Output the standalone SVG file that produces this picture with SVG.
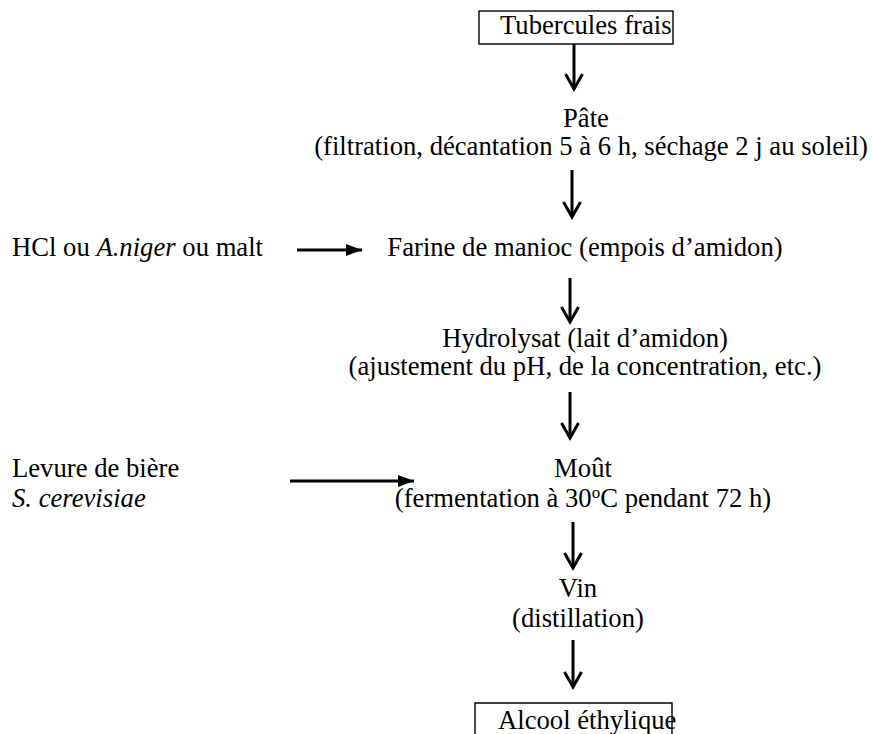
<svg xmlns="http://www.w3.org/2000/svg" width="872" height="734" viewBox="0 0 872 734">
<style>
text{font-family:"Liberation Serif","Times New Roman",serif;font-size:26.67px;fill:#000}
.c{text-anchor:middle}
.i{font-style:italic}
.box{fill:none;stroke:#000;stroke-width:1.4}
.v{stroke:#000;stroke-width:3;fill:none;marker-end:url(#vhead)}
.h{stroke:#000;stroke-width:3;fill:none;marker-end:url(#thead)}
</style>
<defs>
<marker id="vhead" markerUnits="userSpaceOnUse" viewBox="-20 -12 24 24" refX="0" refY="0" markerWidth="24" markerHeight="24" orient="auto" overflow="visible">
<path d="M-15,-8.5 L0,0 L-15,8.5" fill="none" stroke="#000" stroke-width="3" stroke-linejoin="miter"/>
</marker>
<marker id="thead" markerUnits="userSpaceOnUse" viewBox="-20 -10 24 20" refX="0" refY="0" markerWidth="24" markerHeight="20" orient="auto" overflow="visible">
<path d="M-16,-6 L0,0 L-16,6 Z" fill="#000"/>
</marker>
</defs>
<rect width="872" height="734" fill="#fff"/>
<g id="tubercules">
<rect class="box" x="479" y="11" width="194" height="33"/>
<text x="500" y="34">Tubercules frais</text>
</g>
<g id="pate">
<text class="c" x="586" y="127">Pâte</text>
<text class="c" x="591" y="155">(filtration, décantation 5 à 6 h, séchage 2 j au soleil)</text>
</g>
<g id="hcl">
<text x="12" y="256">HCl ou <tspan class="i">A.niger</tspan> ou malt</text>
</g>
<g id="farine">
<text class="c" x="585" y="256">Farine de manioc (empois d’amidon)</text>
</g>
<g id="hydrolysat">
<text class="c" x="585" y="347">Hydrolysat (lait d’amidon)</text>
<text class="c" x="585" y="375">(ajustement du pH, de la concentration, etc.)</text>
</g>
<g id="levure">
<text x="12" y="477">Levure de bière</text>
<text class="i" x="12" y="507">S. cerevisiae</text>
</g>
<g id="mout">
<text class="c" x="583" y="477">Moût</text>
<text class="c" x="583" y="507">(fermentation à 30<tspan font-size="17" dy="-9">o</tspan><tspan dy="9">C pendant 72 h)</tspan></text>
</g>
<g id="vin">
<text class="c" x="578" y="597">Vin</text>
<text class="c" x="578" y="627">(distillation)</text>
</g>
<g id="alcool">
<path class="box" d="M475,740 V703 H672 V740"/>
<text x="498" y="729">Alcool éthylique</text>
</g>
<g id="connectors">
<line class="v" x1="574" y1="44" x2="574" y2="89"/>
<line class="v" x1="572" y1="170" x2="572" y2="217"/>
<line class="h" x1="297" y1="250" x2="362" y2="250"/>
<line class="v" x1="570" y1="278" x2="570" y2="322"/>
<line class="v" x1="570" y1="392" x2="570" y2="438"/>
<line class="h" x1="290" y1="481" x2="414" y2="481"/>
<line class="v" x1="573" y1="522" x2="573" y2="568"/>
<line class="v" x1="573" y1="640" x2="573" y2="687"/>
</g>
</svg>
